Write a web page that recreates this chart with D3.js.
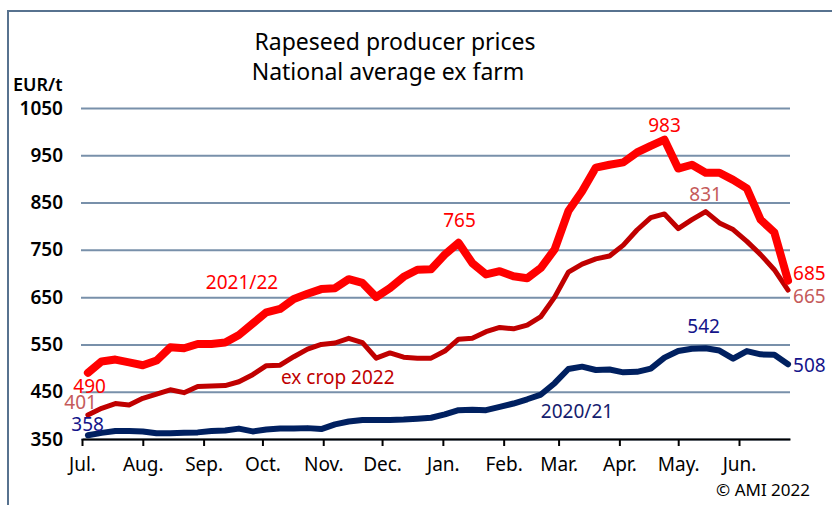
<!DOCTYPE html>
<html>
<head>
<meta charset="utf-8">
<script src="https://cdn.jsdelivr.net/npm/d3@7"></script>
<style>
  body { margin: 0; background: #fff; }
  svg { display: block; font-family: "Noto Sans", sans-serif; }
</style>
</head>
<body>
<svg id="chart" width="832" height="505"></svg>
<script>
// weekly prices, EUR/t (first week of July 2021 to last week of June 2022)
var price2122 = [490, 514, 518, 512, 506, 516, 544, 542, 551, 551, 554, 570, 594, 618, 625, 646,
  657, 667, 669, 688, 680, 650, 669, 693, 708, 709, 740, 765, 722, 698, 705, 694, 690, 712, 751,
  832, 874, 924, 930, 935, 956, 970, 983, 922, 930, 913, 913, 898, 880, 814, 787, 685];
var priceExCrop = [401, 415, 425, 422, 436, 445, 454, 448, 461, 462, 463, 471, 486, 505, 506, 524,
  540, 550, 553, 563, 554, 521, 532, 523, 521, 521, 536, 561, 563, 577, 586, 583, 591, 609, 650,
  703, 720, 731, 737, 760, 792, 818, 826, 795, 814, 831, 807, 793, 768, 740, 708, 665];
var price2021 = [358, 363, 367, 367, 366, 362, 362, 363, 364, 367, 368, 372, 366, 370, 372, 372,
  373, 371, 381, 387, 390, 390, 390, 391, 393, 395, 402, 411, 412, 411, 418, 425, 434, 444, 468,
  498, 503, 496, 497, 491, 492, 499, 522, 536, 541, 542, 537, 520, 536, 529, 528, 508];

var monthLabels = ["Jul.", "Aug.", "Sep.", "Oct.", "Nov.", "Dec.", "Jan.", "Feb.", "Mar.", "Apr.", "May.", "Jun."];
var yTicks = [350, 450, 550, 650, 750, 850, 950, 1050];

// week dates (Sundays) and month starts
var weeks = d3.timeWeek.range(new Date(2021, 6, 4), new Date(2022, 6, 1));
var months = d3.timeMonth.range(new Date(2021, 6, 1), new Date(2022, 6, 1));

var svg = d3.select("#chart");

var x = d3.scaleTime()
    .domain([new Date(2021, 6, 1), new Date(2022, 5, 27)])
    .range([82, 790]);

var y = d3.scaleLinear()
    .domain([350, 1050])
    .range([439, 108]);

// outer frame
svg.append("path")
    .attr("d", "M8,510V11H840")
    .attr("fill", "none")
    .attr("stroke", "#57728f")
    .attr("stroke-width", 2);

// title
svg.append("text")
    .attr("x", 395).attr("y", 50)
    .attr("text-anchor", "middle")
    .style("font-size", "23px")
    .text("Rapeseed producer prices");
svg.append("text")
    .attr("x", 388).attr("y", 80)
    .attr("text-anchor", "middle")
    .style("font-size", "23px")
    .text("National average ex farm");

svg.append("text")
    .attr("x", 13).attr("y", 91)
    .style("font-size", "18px")
    .style("font-weight", "600")
    .text("EUR/t");

// y grid + labels
var yAxis = svg.append("g")
    .attr("transform", "translate(81,0)")
    .call(d3.axisLeft(y)
      .tickValues(yTicks)
      .tickFormat(d3.format("d"))
      .tickSize(-(790 - 81))
      .tickPadding(18));
yAxis.select(".domain").remove();
yAxis.selectAll(".tick line")
    .attr("stroke", "#7890aa")
    .attr("stroke-width", 2);
yAxis.selectAll(".tick text")
    .style("font-family", "Noto Sans")
    .style("font-size", "19px")
    .style("font-weight", "600")
    .attr("fill", "#000");

// x axis
var xAxis = svg.append("g")
    .attr("transform", "translate(0,439)")
    .call(d3.axisBottom(x)
      .tickValues(months)
      .tickFormat(function(d, i) { return monthLabels[i]; })
      .tickSize(7)
      .tickSizeOuter(0)
      .tickPadding(12));
xAxis.select(".domain")
    .attr("stroke", "#000")
    .attr("stroke-width", 2);
xAxis.selectAll(".tick line")
    .attr("stroke", "#000")
    .attr("stroke-width", 2);
xAxis.selectAll(".tick text")
    .style("font-family", "Noto Sans")
    .style("font-size", "19px")
    .attr("fill", "#000");

// lines
var line = d3.line()
    .x(function(d, i) { return x(weeks[i]); })
    .y(function(d) { return y(d); });

var series = [
  {values: price2021, color: "#002060", width: 6},
  {values: priceExCrop, color: "#c00000", width: 5},
  {values: price2122, color: "#ff0000", width: 8}
];

svg.selectAll(".series")
    .data(series)
  .enter().append("path")
    .attr("class", "series")
    .attr("d", function(d) { return line(d.values); })
    .attr("fill", "none")
    .attr("stroke", function(d) { return d.color; })
    .attr("stroke-width", function(d) { return d.width; })
    .attr("stroke-linejoin", "round")
    .attr("stroke-linecap", "round");

// value labels, placed relative to their data point
var valueLabels = [
  {values: price2122, i: 0, color: "#ff0000", anchor: "end", dx: 18, dy: 13},
  {values: priceExCrop, i: 0, color: "#c55a5a", anchor: "end", dx: 9, dy: -13},
  {values: price2021, i: 0, color: "#14148a", anchor: "end", dx: 16, dy: -11},
  {values: price2122, i: 27, color: "#ff0000", anchor: "middle", dx: 1, dy: -23},
  {values: price2122, i: 42, color: "#ff0000", anchor: "middle", dx: 0, dy: -15},
  {values: priceExCrop, i: 45, color: "#c55a5a", anchor: "middle", dx: 0, dy: -17},
  {values: price2021, i: 45, color: "#14148a", anchor: "middle", dx: -2, dy: -22},
  {values: price2122, i: 51, color: "#ff0000", anchor: "start", dx: 5, dy: -7},
  {values: priceExCrop, i: 51, color: "#c55a5a", anchor: "start", dx: 5, dy: 6},
  {values: price2021, i: 51, color: "#14148a", anchor: "start", dx: 5, dy: 1}
];

svg.selectAll(".vlabel")
    .data(valueLabels)
  .enter().append("text")
    .attr("class", "vlabel")
    .attr("x", function(d) { return x(weeks[d.i]) + d.dx; })
    .attr("y", function(d) { return y(d.values[d.i]) + d.dy; })
    .attr("dy", "0.36em")
    .attr("text-anchor", function(d) { return d.anchor; })
    .attr("fill", function(d) { return d.color; })
    .style("font-size", "19px")
    .text(function(d) { return d.values[d.i]; });

// series names
svg.append("text")
    .attr("x", 242).attr("y", 282).attr("dy", "0.36em")
    .attr("text-anchor", "middle")
    .attr("fill", "#ff0000")
    .style("font-size", "19px")
    .text("2021/22");
svg.append("text")
    .attr("x", 281).attr("y", 377).attr("dy", "0.36em")
    .attr("fill", "#c00000")
    .style("font-size", "19px")
    .text("ex crop 2022");
svg.append("text")
    .attr("x", 577).attr("y", 411).attr("dy", "0.36em")
    .attr("text-anchor", "middle")
    .attr("fill", "#14206e")
    .style("font-size", "19px")
    .text("2020/21");

svg.append("text")
    .attr("x", 810).attr("y", 496)
    .attr("text-anchor", "end")
    .style("font-size", "17px")
    .text("\u00a9 AMI 2022");
</script>
</body>
</html>
